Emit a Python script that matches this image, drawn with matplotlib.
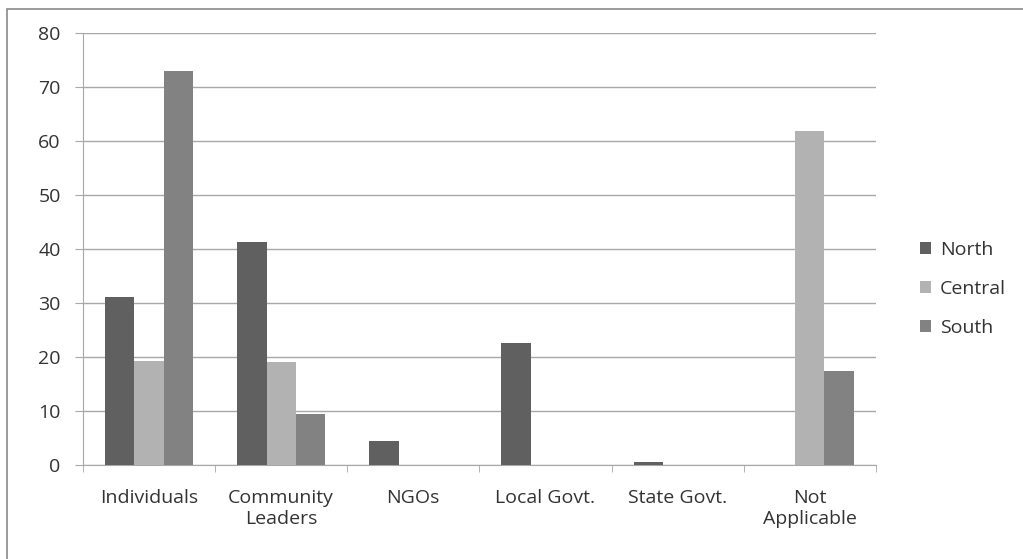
import matplotlib.pyplot as plt
import numpy as np
from matplotlib.patches import Rectangle

# Survey categories and shares (%) by region
categories = ["Individuals", "Community\nLeaders", "NGOs", "Local Govt.", "State Govt.", "Not\nApplicable"]
north = [31.1, 41.3, 4.5, 22.6, 0.5, 0.0]
central = [19.2, 19.0, 0.0, 0.0, 0.0, 61.8]
south = [73.0, 9.4, 0.0, 0.0, 0.0, 17.4]
y_ticks = [0, 10, 20, 30, 40, 50, 60, 70, 80]

NORTH_COLOR = "#606060"
CENTRAL_COLOR = "#b2b2b2"
SOUTH_COLOR = "#828282"
GRID_COLOR = "#a8a8a8"
TEXT_COLOR = "#333333"
FONT_SIZE = 14

plt.rcParams["font.family"] = ["Open Sans", "DejaVu Sans"]

fig = plt.figure(figsize=(10.23, 5.59), dpi=100)
ax = fig.add_axes([0.0811, 0.168, 0.775, 0.773])

x = np.arange(len(categories))
width = 0.222

ax.bar(x - width, north, width, color=NORTH_COLOR, label="North", zorder=3)
ax.bar(x, central, width, color=CENTRAL_COLOR, label="Central", zorder=3)
ax.bar(x + width, south, width, color=SOUTH_COLOR, label="South", zorder=3)

ax.set_xlim(-0.5, len(categories) - 0.5)
ax.set_ylim(0, 80)
ax.set_yticks(y_ticks)
ax.set_xticks(x)
ax.set_xticklabels(categories, fontsize=FONT_SIZE, color=TEXT_COLOR, linespacing=1.25)
ax.set_xticks(np.arange(len(categories) + 1) - 0.5, minor=True)

ax.tick_params(axis="y", length=6, color=GRID_COLOR, labelsize=FONT_SIZE, labelcolor=TEXT_COLOR, pad=10)
ax.tick_params(axis="x", which="major", length=0, pad=17)
ax.tick_params(axis="x", which="minor", length=5, color=GRID_COLOR)

ax.grid(axis="y", color=GRID_COLOR, linewidth=1, zorder=0)
ax.set_axisbelow(True)
for side in ["top", "right"]:
    ax.spines[side].set_visible(False)
for side in ["left", "bottom"]:
    ax.spines[side].set_color(GRID_COLOR)

legend = ax.legend(loc="center left", bbox_to_anchor=(1.034, 0.408), frameon=False,
                   fontsize=FONT_SIZE, labelspacing=1.07, handlelength=0.55, handleheight=0.55,
                   handletextpad=0.45)
for text in legend.get_texts():
    text.set_color(TEXT_COLOR)

# frame line along the top and left of the chart area
fig.patches.append(Rectangle((7 / 1023, -0.1), 1.2, 0.1 + 550 / 559,
                             transform=fig.transFigure, fill=False,
                             edgecolor="#8a8a8a", linewidth=1.2))

fig.savefig("out.png", dpi=100, facecolor="white")
